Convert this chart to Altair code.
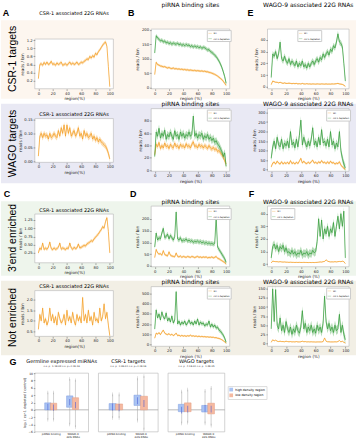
import altair as alt
import pandas as pd

# ---------------- data ----------------
REGION = list(range(0, 101, 2))
SERIES = ["WT", "csr-1 depletion"]
ROW_LABELS = ["CSR-1 targets", "WAGO targets", "3'end enriched", "Not enriched"]
T_CSR1 = "CSR-1 associated 22G RNAs"
T_PIRNA = "piRNA binding sites"
T_WAGO9 = "WAGO-9 associated 22G RNAs"

A1 = [0.25, 0.60, 0.62, 0.58, 0.65, 0.60, 0.66, 0.60, 0.62, 0.68,
      0.60, 0.62, 0.58, 0.64, 0.60, 0.62, 0.66, 0.58, 0.60, 0.62,
      0.58, 0.62, 0.66, 0.60, 0.64, 0.60, 0.62, 0.66, 0.60, 0.62,
      0.66, 0.64, 0.68, 0.70, 0.74, 0.72, 0.80, 0.76, 0.82, 0.78,
      0.88, 0.84, 0.92, 0.96, 1.02, 1.08, 1.12, 1.16, 1.05, 0.55,
      0.05]
A2 = [0.020, 0.090, 0.100, 0.085, 0.100, 0.090, 0.095, 0.080, 0.100, 0.085,
      0.090, 0.100, 0.090, 0.085, 0.110, 0.090, 0.120, 0.100, 0.130, 0.090,
      0.130, 0.100, 0.120, 0.090, 0.100, 0.110, 0.090, 0.100, 0.120, 0.090,
      0.100, 0.080, 0.110, 0.090, 0.100, 0.085, 0.090, 0.100, 0.080, 0.090,
      0.075, 0.085, 0.070, 0.080, 0.070, 0.065, 0.060, 0.055, 0.045, 0.030,
      0.010]
B1_WT = [45, 88, 80, 78, 75, 74, 72, 73, 70, 68,
         70, 67, 66, 68, 65, 66, 64, 65, 63, 64,
         62, 63, 61, 62, 60, 61, 60, 59, 60, 58,
         59, 58, 57, 58, 56, 57, 55, 55, 53, 52,
         50, 48, 46, 43, 40, 36, 32, 28, 22, 15,
         8]
B1_KD = [120, 180, 172, 168, 162, 165, 158, 162, 155, 158,
         152, 156, 150, 155, 152, 150, 155, 148, 152, 146,
         150, 145, 150, 146, 148, 142, 146, 140, 145, 140,
         143, 138, 142, 136, 140, 138, 135, 130, 132, 125,
         122, 118, 112, 108, 100, 92, 82, 70, 55, 38,
         15]
B2_WT = [25, 42, 38, 45, 35, 40, 36, 44, 38, 40,
         35, 42, 38, 36, 44, 38, 40, 35, 42, 38,
         40, 36, 43, 38, 40, 36, 42, 46, 38, 40,
         36, 42, 38, 40, 36, 40, 38, 35, 40, 36,
         34, 37, 33, 35, 30, 32, 28, 25, 22, 15,
         10]
B2_KD = [22, 62, 55, 68, 52, 60, 55, 65, 50, 58,
         54, 62, 55, 50, 64, 55, 58, 50, 62, 55,
         60, 52, 58, 55, 62, 55, 58, 88, 55, 60,
         52, 58, 55, 60, 50, 56, 52, 58, 50, 54,
         48, 52, 45, 48, 42, 40, 35, 30, 22, 28,
         6]
E1_WT = [2, 5, 4.5, 4, 4, 3.5, 4, 3.5, 3, 3.5,
         3, 3, 3.2, 3, 2.8, 3, 2.8, 3, 2.6, 2.8,
         2.5, 3, 2.6, 2.5, 2.8, 2.5, 2.6, 2.4, 2.6, 2.5,
         2.4, 2.6, 2.5, 2.4, 2.6, 2.5, 2.4, 2.6, 2.4, 2.5,
         2.4, 2.6, 2.5, 2.6, 2.8, 3, 2.6, 2.4, 2.2, 1.5,
         0.5]
E1_KD = [8, 28, 26, 30, 24, 28, 38, 24, 22, 26,
         22, 20, 24, 19, 22, 20, 18, 22, 17, 20,
         18, 22, 17, 19, 16, 20, 17, 20, 22, 19,
         22, 24, 21, 25, 23, 28, 25, 28, 30, 27,
         32, 30, 35, 33, 38, 45, 38, 37, 34, 20,
         5]
E2_WT = [15, 35, 40, 30, 45, 35, 30, 42, 30, 38,
         32, 40, 30, 48, 32, 38, 30, 40, 32, 45,
         60, 35, 45, 35, 32, 40, 33, 42, 50, 35,
         40, 32, 42, 35, 48, 36, 40, 32, 42, 32,
         45, 35, 38, 30, 35, 32, 42, 25, 15, 8,
         3]
E2_KD = [60, 120, 150, 110, 170, 130, 120, 160, 110, 140,
         125, 150, 115, 200, 130, 145, 115, 160, 120, 180,
         260, 130, 170, 140, 120, 150, 125, 160, 220, 130,
         150, 120, 170, 130, 210, 140, 150, 125, 160, 120,
         200, 130, 150, 110, 140, 120, 200, 100, 60, 30,
         10]
C3 = [0.25, 0.40, 0.35, 0.55, 0.35, 0.40, 0.36, 0.42, 0.58, 0.38,
      0.35, 0.40, 0.36, 0.38, 0.42, 0.55, 0.36, 0.40, 0.38, 0.35,
      0.40, 0.38, 0.55, 0.40, 0.36, 0.42, 0.38, 0.40, 0.52, 0.40,
      0.42, 0.45, 0.48, 0.46, 0.52, 0.55, 0.58, 0.62, 0.60, 0.68,
      0.72, 0.78, 0.82, 0.90, 0.95, 1.05, 1.00, 1.20, 1.32, 0.90,
      0.25]
C4 = [0.6, 1.3, 1.0, 1.6, 0.9, 1.1, 0.8, 1.0, 1.6, 1.0,
      1.3, 0.9, 1.2, 0.8, 1.4, 1.1, 0.9, 1.0, 1.3, 0.8,
      1.5, 1.0, 1.2, 0.9, 1.4, 1.0, 0.8, 1.3, 1.0, 1.2,
      0.9, 2.1, 1.0, 1.3, 0.9, 1.5, 1.0, 1.2, 0.8, 1.4,
      1.0, 1.1, 0.9, 1.6, 1.0, 1.2, 1.8, 1.1, 1.4, 0.8,
      0.3]
D3_WT = [35, 70, 55, 50, 52, 45, 65, 48, 45, 42,
         60, 45, 42, 40, 38, 55, 40, 38, 42, 36,
         40, 38, 36, 40, 38, 36, 40, 38, 35, 38,
         40, 36, 38, 35, 38, 36, 38, 34, 36, 35,
         38, 34, 36, 40, 32, 30, 26, 22, 18, 14,
         8]
D3_KD = [80, 140, 110, 120, 115, 140, 160, 120, 125, 135,
         115, 130, 120, 110, 125, 230, 115, 110, 120, 105,
         110, 108, 115, 105, 110, 104, 108, 100, 105, 102,
         106, 100, 104, 98, 102, 96, 100, 95, 98, 94,
         96, 92, 95, 205, 80, 70, 60, 50, 40, 30,
         15]
D4_WT = [60, 110, 100, 115, 95, 120, 140, 110, 100, 95,
         105, 90, 100, 85, 95, 110, 85, 90, 80, 88,
         80, 85, 78, 85, 80, 90, 80, 84, 78, 82,
         76, 80, 75, 78, 74, 76, 72, 74, 70, 72,
         68, 70, 65, 66, 60, 58, 52, 45, 35, 25,
         10]
D4_KD = [150, 340, 260, 300, 240, 320, 270, 250, 310, 230,
         260, 220, 280, 210, 240, 520, 200, 230, 190, 220,
         200, 230, 190, 210, 240, 200, 220, 190, 230, 200,
         250, 190, 220, 200, 210, 180, 200, 190, 230, 170,
         200, 170, 190, 160, 170, 140, 130, 110, 90, 60,
         20]
F3_WT = [1, 2.5, 2.2, 2, 2, 1.8, 2, 1.8, 1.7, 1.8,
         1.6, 1.6, 1.5, 1.6, 1.5, 1.5, 1.4, 1.5, 1.4, 1.5,
         1.4, 1.4, 1.5, 1.4, 1.4, 1.3, 1.4, 1.3, 1.4, 1.3,
         1.4, 1.5, 1.6, 1.8, 1.7, 2, 2.2, 3.5, 2.5, 2,
         1.8, 1.9, 1.8, 2, 1.8, 2, 2.2, 2, 2.4, 2,
         0.5]
F3_KD = [5, 14, 16, 12, 15, 10, 14, 12, 15, 10,
         13, 9, 10, 8, 11, 8, 10, 7, 9, 8,
         11, 7, 9, 8, 10, 7, 9, 8, 11, 9,
         10, 18, 36, 22, 35, 20, 28, 24, 30, 22,
         28, 25, 33, 22, 30, 38, 28, 40, 30, 42,
         5]
F4_WT = [3, 10, 7, 9, 6, 5, 6, 5, 5, 4.5,
         6, 5, 4.5, 5, 4, 4.5, 4, 5, 4, 4,
         4.5, 6, 4.5, 5, 4, 4.5, 4, 4.5, 4, 4,
         3.8, 4, 4, 4, 4, 5, 15, 6, 4.5, 4.5,
         4, 4, 4, 4.5, 4, 5, 8, 4, 6, 3,
         1]
F4_KD = [40, 150, 60, 148, 50, 40, 70, 35, 50, 30,
         60, 40, 30, 45, 25, 40, 30, 50, 35, 28,
         45, 90, 40, 55, 30, 45, 35, 50, 30, 40,
         28, 50, 35, 45, 30, 55, 130, 60, 40, 55,
         35, 45, 30, 50, 35, 40, 80, 30, 50, 25,
         10]

# G: box plots  [lower whisker, q1, median, q3, upper whisker]
BOX_TITLES = ["Germline expressed miRNAs", "CSR-1 targets", "WAGO targets"]
BOX_SIG = ["n.s. p=1.1E-03    n.s. p<2.2E-16",
           "n.s. p=2.0E-02    n.s. p<2.2E-16",
           "n.s. p=4.1E-02    n.s. p=1.3E-05"]
BOX_CATS = ["piRNA binding", "WAGO-9|22G RNAs"]
BOX_GROUPS = ["high density region", "low density region"]
BOX_STATS = [
    [[-2.7, 0.0, 0.8, 1.9, 4.7], [-2.7, 0.0, 0.6, 1.8, 4.7],
     [-4.0, 0.7, 2.1, 3.8, 8.4], [-4.7, 0.1, 1.3, 3.3, 8.1]],
    [[-2.2, 0.0, 0.8, 1.7, 4.2], [-2.2, 0.0, 0.6, 1.6, 4.2],
     [-2.9, 1.2, 2.5, 4.0, 8.6], [-5.4, 0.0, 1.7, 3.7, 9.2]],
    [[-3.7, -0.5, -0.1, 1.5, 5.0], [-3.5, -0.5, 0.2, 1.9, 5.5],
     [-3.7, -0.6, 0.4, 1.2, 5.2], [-4.3, -1.1, 0.2, 1.8, 6.0]],
]

# ---------------- styles ----------------
ORANGE = "#f39c1e"
GREEN = "#2f9a35"
FRAME = "#b4b4b4"
BG = ["#fdf6ef", "#e9e9f4", "#eef5ec", "#f2efe5"]
FONT = "DejaVu Sans"
LAB_FONT = "Liberation Sans"
BLUE_FILL, BLUE_EDGE = "#a9c3f3", "#7d9be0"
ORG_FILL, ORG_EDGE = "#f5b9a1", "#e49b80"
MEDIAN = "#4356d2"
WHISK = "#a0a0a0"
GROUP_SHIFT = 0.13

ONE = pd.DataFrame({"k": [0]})

AX = dict(labelFontSize=3.8, titleFontSize=4.2, tickSize=1.8, tickWidth=0.4,
          tickColor="#333333", domain=False, grid=False, labelPadding=0.8,
          titlePadding=1.5, labelColor="#222222", titleColor="#222222",
          labelFont=FONT, titleFont=FONT, titleFontWeight="normal", zindex=2)


def rect_layer(x1, x2, y1, y2, fill, stroke=None):
    kw = dict(fill=fill)
    if stroke:
        kw.update(stroke=stroke, strokeWidth=0.6)
    else:
        kw.update(strokeWidth=0)
    return alt.Chart(ONE).mark_rect(**kw).encode(
        x=alt.value(x1), x2=alt.value(x2), y=alt.value(y1), y2=alt.value(y2))


def text_layer(txt, x, y, size, bold=False, angle=0, font=LAB_FONT):
    kw = dict(text=txt, fontSize=size, font=font, align="center",
              baseline="middle", color="black")
    if bold:
        kw["fontWeight"] = "bold"
    if angle:
        kw["angle"] = angle
    return alt.Chart(ONE).mark_text(**kw).encode(x=alt.value(x), y=alt.value(y))


def line_panel(spec, w, ch, ft, fb, pre, post):
    recs = []
    for name, vals, err in spec["series"]:
        for x, v in zip(REGION, vals):
            recs.append({"x": x, "v": v, "lo": v - err, "hi": v + err, "s": name})
    df = pd.DataFrame(recs)
    xs = alt.Scale(domain=[-5, 105], nice=False, zero=False)
    ys = alt.Scale(domain=spec["ydom"], range=[fb, ft], nice=False, zero=False)
    xax = alt.Axis(values=[0, 20, 40, 60, 80, 100], title=spec["xtitle"],
                   offset=fb - ch, **AX)
    yax = alt.Axis(values=spec["yticks"], format=spec["fmt"], title="reads / bin", **AX)
    if spec.get("leg"):
        lx, ly = spec["leg"]
        legend = alt.Legend(
            orient="none", legendX=lx, legendY=ft + ly, title=None, symbolType="stroke",
            symbolSize=12, symbolStrokeWidth=0.8, labelFontSize=2.2, labelFont=FONT,
            labelOffset=1, padding=0.8, rowPadding=0.3, strokeColor="#cccccc",
            fillColor="white", labelLimit=50, zindex=3)
    else:
        legend = None
    color = alt.Color("s:N", scale=alt.Scale(domain=SERIES, range=[ORANGE, GREEN]), legend=legend)
    band = alt.Chart(df).mark_area(opacity=0.35).encode(
        x=alt.X("x:Q", scale=xs, axis=xax),
        y=alt.Y("lo:Q", scale=ys, axis=yax, stack=None),
        y2="hi:Q", color=color)
    line = alt.Chart(df).mark_line(strokeWidth=0.7).encode(
        x=alt.X("x:Q", scale=xs, axis=xax),
        y=alt.Y("v:Q", scale=ys, axis=yax), color=color)
    layers = pre + [rect_layer(0, w, ft, fb, "white", FRAME), band, line] + post
    return alt.layer(*layers).properties(
        width=w, height=ch,
        title=alt.TitleParams(spec["title"], fontSize=spec["tsize"], font=FONT, frame="group",
                              fontWeight="normal", offset=1.2 - ft, color="black"))


def box_panel(i, w, ch, fx0, fx1, ft, fb, show_y, with_legend, post):
    recs = []
    k = 0
    for ci, cat in enumerate(BOX_CATS):
        for gi, g in enumerate(BOX_GROUPS):
            lo, q1, med, q3, hi = BOX_STATS[i][k]
            k += 1
            pos = ci + 1 + (GROUP_SHIFT if gi else -GROUP_SHIFT)
            recs.append(dict(pos=pos, g=g, lo=lo, q1=q1, med=med, q3=q3, hi=hi))
    df = pd.DataFrame(recs)
    pw = fx1 - fx0
    xs = alt.Scale(domain=[0.5, 2.5], range=[fx0, fx1], nice=False, zero=False)
    xax = alt.Axis(title=None, values=[1, 2], labelAngle=0,
                   labelExpr="datum.value == 1 ? 'piRNA binding' : ['WAGO-9', '22G RNAs']",
                   labelFontSize=2.7, labelFont=FONT, ticks=False, domain=False, grid=False,
                   labelPadding=0.6, labelColor="#222222", labelLineHeight=3.0,
                   labelBaseline="top", offset=fb - ch, zindex=2)
    X = alt.X("pos:Q", scale=xs, axis=xax)
    ys = alt.Scale(domain=[-6, 10], range=[fb, ft], nice=False, zero=False)
    if show_y:
        yax = alt.Axis(values=list(range(-6, 11, 2)), title="log\u2082 ( csr-1 depleted / control)",
                       labelFontSize=3, titleFontSize=3.4, tickSize=1.5, tickWidth=0.4,
                       tickColor="#333333", domain=False, grid=False, labelPadding=0.8,
                       titlePadding=1.5, labelFont=FONT, titleFont=FONT, zindex=2,
                       titleFontWeight="normal", labelColor="#222222", titleColor="#222222")
    else:
        yax = None
    if with_legend:
        legend = alt.Legend(orient="none", legendX=with_legend[0], legendY=with_legend[1],
                            title=None, symbolType="square", symbolSize=14,
                            symbolStrokeWidth=0, labelFontSize=3.1, labelFont=FONT,
                            labelOffset=2, padding=1.5, rowPadding=0.8,
                            strokeColor="#dddddd", fillColor="white", labelLimit=80)
    else:
        legend = None
    bw = pw * 0.118
    base = alt.Chart(df)
    zero = alt.Chart(pd.DataFrame({"z": [0]})).mark_rule(color="#8a8a8a", strokeWidth=0.6).encode(
        x=alt.value(fx0), x2=alt.value(fx1), y=alt.Y("z:Q", scale=ys, axis=yax))
    whisk = base.mark_rule(color=WHISK, strokeWidth=0.5).encode(
        x=X, y=alt.Y("lo:Q", scale=ys, axis=yax), y2="hi:Q")
    cap_lo = base.mark_tick(color=WHISK, thickness=0.5, size=bw * 0.55).encode(
        x=X, y=alt.Y("lo:Q", scale=ys, axis=yax))
    cap_hi = base.mark_tick(color=WHISK, thickness=0.5, size=bw * 0.55).encode(
        x=X, y=alt.Y("hi:Q", scale=ys, axis=yax))
    box = base.mark_bar(strokeWidth=0.5, width=bw).encode(
        x=X, y=alt.Y("q1:Q", scale=ys, axis=yax), y2="q3:Q",
        color=alt.Color("g:N", scale=alt.Scale(domain=BOX_GROUPS, range=[BLUE_FILL, ORG_FILL]),
                        legend=legend),
        stroke=alt.Stroke("g:N", scale=alt.Scale(domain=BOX_GROUPS, range=[BLUE_EDGE, ORG_EDGE]),
                          legend=None))
    med = base.mark_tick(color=MEDIAN, thickness=0.8, size=bw).encode(
        x=X, y=alt.Y("med:Q", scale=ys, axis=yax))
    layers = [rect_layer(fx0, fx1, ft, fb, "white", FRAME), zero, whisk, cap_lo, cap_hi, box, med] + post
    return alt.layer(*layers).properties(
        width=w, height=ch,
        title=alt.TitleParams(BOX_TITLES[i], subtitle=BOX_SIG[i], fontSize=5, frame="group",
                              subtitleFontSize=2.4, font=FONT, subtitleFont=FONT,
                              fontWeight="normal", offset=5.5 - ft, subtitlePadding=1,
                              dx=(fx0 + fx1) / 2 - w / 2,
                              color="black", subtitleColor="#333333"))


def single(title, vals, err, ydom, yticks, fmt):
    return dict(title=title, tsize=5, xtitle="region(%)", series=[("WT", vals, err)],
                ydom=ydom, yticks=yticks, fmt=fmt)


def double(title, wt, kd, ewt, ekd, ydom, yticks, leg):
    return dict(title=title, tsize=6, xtitle="region (%)",
                series=[("WT", wt, ewt), ("csr-1 depletion", kd, ekd)],
                ydom=ydom, yticks=yticks, fmt="d", leg=leg)


SPECS = [
    [single(T_CSR1, A1, 0.04, [0.0, 1.23], [0.2, 0.4, 0.6, 0.8, 1.0, 1.2], ".1f"),
     double(T_PIRNA, B1_WT, B1_KD, 4, 7, [-4, 203], [0, 50, 100, 150, 200], (56, 1)),
     double(T_WAGO9, E1_WT, E1_KD, 0.5, 2.5, [-1.5, 49], [0, 10, 20, 30, 40], (30, 1))],
    [single(T_CSR1, A2, 0.01, [-0.002, 0.152], [0.0, 0.05, 0.10, 0.15], ".2f"),
     double(T_PIRNA, B2_WT, B2_KD, 4, 6, [-2, 100], [0, 20, 40, 60, 80], (56, 1)),
     double(T_WAGO9, E2_WT, E2_KD, 6, 20, [-8, 320], [0, 50, 100, 150, 200, 250, 300], (59, 1))],
    [single(T_CSR1, C3, 0.05, [-0.05, 1.43], [0.25, 0.5, 0.75, 1.0, 1.25], ".2f"),
     double(T_PIRNA, D3_WT, D3_KD, 5, 10, [-4, 255], [0, 50, 100, 150, 200], (56, 2)),
     double(T_WAGO9, F3_WT, F3_KD, 0.3, 3, [-2, 46], [0, 10, 20, 30, 40], (3, 2))],
    [single(T_CSR1, C4, 0.1, [0.27, 2.42], [0.5, 1.0, 1.5, 2.0], ".1f"),
     double(T_PIRNA, D4_WT, D4_KD, 8, 20, [-20, 569], [0, 100, 200, 300, 400, 500], (56, 1)),
     double(T_WAGO9, F4_WT, F4_KD, 1, 12, [-8, 156], [0, 25, 50, 75, 100, 125, 150], (59, 1))],
]

# ---------------- layout (absolute pixels of the figure) ----------------
COL_X = [34, 151, 268]
COL_W = [79, 79, 82]
HSPACE = 38
ROW_Y = [22, 82, 165, 261, 341, 427]          # grid row edges
PANEL_TOP = [[32, 22, 22], [112, 102, 102], [208, 200, 200], [285, 281, 281]]
PANEL_BOT = [[82, 82, 82], [156, 165, 165], [257, 261, 261], [331, 341, 341]]
BG_Y = [(13, 92), (97, 177), (195, 270), (275, 350)]
LABEL_Y = [52, 137, 232, 312]
LETTER_POS = {(0, 0): ("A", 5, 6), (0, 1): ("B", 131, 6), (0, 2): ("E", 251, 6),
              (2, 0): ("C", 6, 188), (2, 1): ("D", 133, 188), (2, 2): ("F", 252, 188)}
G_X = [(34, 88), (98, 158), (168, 225)]
G_Y = (368, 427)

cells = []
for r in range(4):
    y0 = ROW_Y[r]
    ch = ROW_Y[r + 1] - y0
    for c in range(3):
        left = COL_X[c]
        w = COL_W[c]
        ft, fb = PANEL_TOP[r][c] - y0, PANEL_BOT[r][c] - y0
        pre, post = [], []
        if c == 0:
            if r == 0:
                pre.append(rect_layer(-left, 357 - left, -y0, 440 - y0, "white"))
            pre.append(rect_layer(-left, 357 - left, BG_Y[r][0] - y0, BG_Y[r][1] - y0, BG[r]))
            post.append(text_layer(ROW_LABELS[r], 12 - left, LABEL_Y[r] - y0, 10.5, angle=270))
        if (r, c) in LETTER_POS:
            L, lx, ly = LETTER_POS[(r, c)]
            post.append(text_layer(L, lx - left, ly - y0, 9, bold=True))
        cells.append(line_panel(SPECS[r][c], w, ch, ft, fb, pre, post))

y0 = ROW_Y[4]
ch = ROW_Y[5] - y0
for i in range(3):
    left = COL_X[i]
    post = []
    if i == 0:
        post.append(text_layer("G", 12 - left, 357 - y0, 9, bold=True))
    leg = (228 - left, 381 - y0) if i == 2 else None
    cells.append(box_panel(i, COL_W[i], ch, G_X[i][0] - left, G_X[i][1] - left,
                           G_Y[0] - y0, G_Y[1] - y0, i == 0, leg, post))

chart = alt.concat(*cells, columns=3, spacing={"row": 0, "column": HSPACE},
                   bounds="flush", align="each", padding=0).resolve_scale(color="independent")
chart = chart.configure(font=FONT).configure_view(stroke="transparent").configure_title(color="black")

chart.save("out.html", embed_options={"renderer": "svg", "actions": False})
